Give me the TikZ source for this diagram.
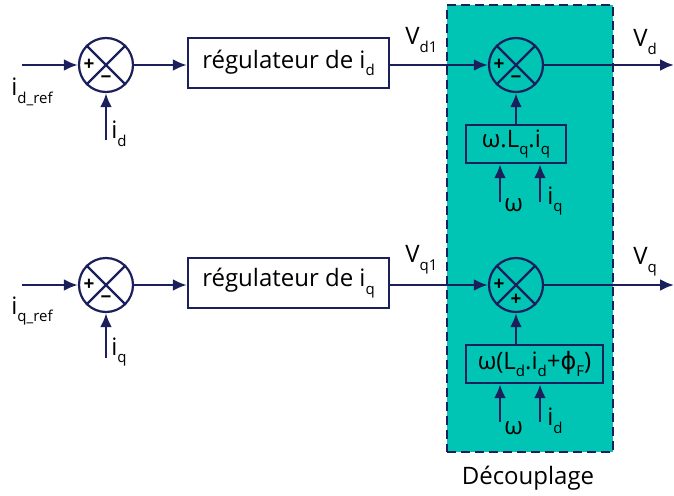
\documentclass[tikz,border=0pt]{standalone}
\usepackage{fontspec}
\setmainfont{Open Sans}
\newfontfamily\djv{DejaVu Sans}
\usetikzlibrary{arrows.meta}
\definecolor{navy}{HTML}{1B1F5C}
\definecolor{teal2}{HTML}{00C5B5}
\newcommand{\lo}[1]{\raisebox{-0.6ex}{\fontsize{15}{15}\selectfont #1}}
\begin{document}
\begin{tikzpicture}[x=1pt,y=-1pt,
  line width=2.8pt, draw=navy, text=navy,
  every node/.style={font=\fontsize{24}{28}\selectfont, text=black},
  sumnode/.style={circle, draw=navy, line width=2.2pt, minimum size=54pt, inner sep=0pt},
  blockbox/.style={rectangle, draw=navy, line width=2.2pt, inner sep=0pt},
  sig/.style={font=\fontsize{19}{19}\selectfont\bfseries, text=black, inner sep=0pt},
  arr/.style={draw=navy, line width=2.8pt, -{Latex[length=14pt,width=12pt]}}
]
\useasboundingbox (0,0) rectangle (674,495);
% decoupling region
\node[draw=navy, dash pattern=on 9pt off 5pt, line width=2.8pt, fill=teal2,
      minimum width=166pt, minimum height=447pt, inner sep=0pt] (dec) at (530,228.5) {};
\node (declab) at (528,478) {Découplage};

% summers
\foreach \n/\x/\y/\b in {s1/106/65/{−}, s2/106/285/{−}, s3/516/65/{−}, s4/516/285/{+}}{
  \node[sumnode] (\n) at (\x,\y) {};
  \draw[navy, line width=2.2pt] (\n.north east) -- (\n.south west) (\n.north west) -- (\n.south east);
  \node[sig] at ([xshift=-17pt]\n.center) {+};
  \node[sig] at ([yshift=-15pt]\n.center) {\b};
}

% regulators
\node[blockbox, minimum width=201pt, minimum height=50pt] (r1) at (288.5,63) {régulateur de i\lo{d}};
\node[blockbox, minimum width=201pt, minimum height=50pt] (r2) at (288.5,283) {régulateur de i\lo{q}};

% decoupling blocks
\node[blockbox, minimum width=100pt, minimum height=38pt] (b1) at (516,144) {ω.L\lo{q}.i\lo{q}};
\node[blockbox, minimum width=137pt, minimum height=38pt] (b2) at (534.5,364) {ω(L\lo{d}.i\lo{d}+{\djv ϕ}\lo{F})};

% coordinates
\coordinate (in1) at (22,65);
\coordinate (in2) at (22,285);
\coordinate (fb1) at (106,140);
\coordinate (fb2) at (106,358);
\coordinate (out1) at (674,65);
\coordinate (out2) at (674,285);
\coordinate (w1) at (500,202);
\coordinate (q1) at (540,202);
\coordinate (w2) at (500,422);
\coordinate (d2) at (540,422);

% connectors
\draw[arr] (in1) -- (s1);
\draw[arr] (in2) -- (s2);
\draw[arr] (fb1) -- (s1);
\draw[arr] (fb2) -- (s2);
\draw[arr] (s1) -- (r1.west |- s1);
\draw[arr] (s2) -- (r2.west |- s2);
\draw[arr] (r1.east |- s3) -- (s3);
\draw[arr] (r2.east |- s4) -- (s4);
\draw[arr] (s3) -- (out1);
\draw[arr] (s4) -- (out2);
\draw[arr] (b1.north) -- (s3);
\draw[arr] (s4 |- b2.north) -- (s4);
\draw[arr] (w1) -- (w1 |- b1.south);
\draw[arr] (q1) -- (q1 |- b1.south);
\draw[arr] (w2) -- (w2 |- b2.south);
\draw[arr] (d2) -- (d2 |- b2.south);

% labels
\node[anchor=west, inner sep=0pt] (l1) at (10,92) {i\lo{d\_ref}};
\node[anchor=west, inner sep=0pt] (l2) at (10,311) {i\lo{q\_ref}};
\node[anchor=west, inner sep=0pt] (l3) at (110,134) {i\lo{d}};
\node[anchor=west, inner sep=0pt] (l4) at (110,352) {i\lo{q}};
\node[anchor=west, inner sep=0pt] (l5) at (404,40) {V\lo{d1}};
\node[anchor=west, inner sep=0pt] (l6) at (404,260) {V\lo{q1}};
\node[anchor=west, inner sep=0pt] (l7) at (632,42) {V\lo{d}};
\node[anchor=west, inner sep=0pt] (l8) at (632,262) {V\lo{q}};
\node[anchor=west, inner sep=0pt] (l9) at (503,205) {ω};
\node[anchor=west, inner sep=0pt] (l10) at (546,201) {i\lo{q}};
\node[anchor=west, inner sep=0pt] (l11) at (503,428) {ω};
\node[anchor=west, inner sep=0pt] (l12) at (546,421) {i\lo{d}};
\end{tikzpicture}
\end{document}
